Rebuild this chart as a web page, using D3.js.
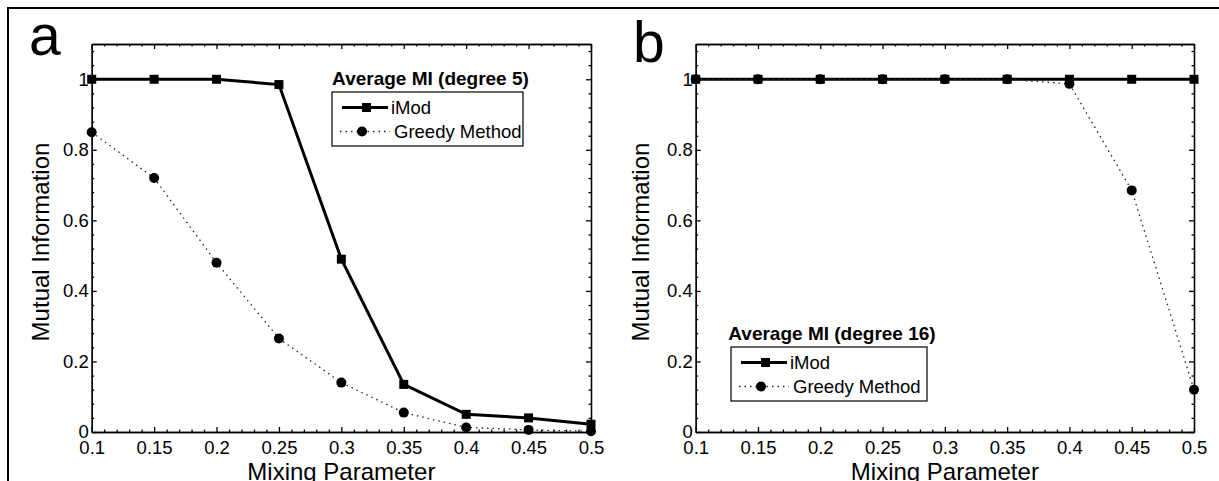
<!DOCTYPE html>
<html>
<head>
<meta charset="utf-8">
<script src="https://d3js.org/d3.v7.min.js"></script>
<style>
  body { margin: 0; background: #fff; }
  svg { display: block; font-family: "Liberation Sans", Arial, Helvetica, sans-serif; }
  .axis path, .axis line { stroke: #000; stroke-width: 1.3; }
  .axis text { font-size: 18.5px; fill: #000; font-family: "Liberation Sans", Arial, sans-serif; }
</style>
</head>
<body>
<svg id="chart"></svg>
<script>
// values
const mixing = [0.1, 0.15, 0.2, 0.25, 0.3, 0.35, 0.4, 0.45, 0.5];
const xTickLabels = ["0.1", "0.15", "0.2", "0.25", "0.3", "0.35", "0.4", "0.45", "0.5"];
const yTicks = [0, 0.2, 0.4, 0.6, 0.8, 1];
const yTickLabels = ["0", "0.2", "0.4", "0.6", "0.8", "1"];

const iModDeg5 = [1, 1, 1, 0.985, 0.49, 0.135, 0.05, 0.04, 0.022];
const greedyDeg5 = [0.85, 0.72, 0.48, 0.265, 0.14, 0.055, 0.013, 0.006, 0.002];
const iModDeg16 = [1, 1, 1, 1, 1, 1, 1, 1, 1];
const greedyDeg16 = [1, 1, 1, 1, 1, 1, 0.987, 0.685, 0.12];

const seriesNames = ["iMod", "Greedy Method"];

document.addEventListener("DOMContentLoaded", function() {
    const width = 1219, height = 481;
    const top = 44, bottom = 432;

    const svg = d3.select("#chart").attr("width", width).attr("height", height);

    // outer frame (runs off the right and bottom edges)
    svg.append("rect")
       .attr("x", 8).attr("y", 8).attr("width", 1300).attr("height", 600)
       .attr("fill", "none").attr("stroke", "#000").attr("stroke-width", 2);

    const panels = [
        { letter: "a", lx: 29, ly: 55, left: 91.7, right: 591, iMod: iModDeg5, greedy: greedyDeg5,
          title: "Average MI (degree 5)", box: [332, 92, 191, 54], ylabX: 49 },
        { letter: "b", lx: 633, ly: 62, left: 695.7, right: 1194, iMod: iModDeg16, greedy: greedyDeg16,
          title: "Average MI (degree 16)", box: [731, 347, 196, 54], ylabX: 649 }
    ];

    panels.forEach(function(p) {
        const x = d3.scaleLinear().domain([0.1, 0.5]).range([p.left, p.right]);
        const y = d3.scaleLinear().domain([0, 1.1]).range([bottom, top]);

        const minorX = d3.range(10, 51).filter(i => i % 5 !== 0).map(i => i / 100);
        const minorY = d3.range(0, 28).filter(i => i % 5 !== 0).map(i => i * 0.04);

        const g = svg.append("g");

        // minor ticks on all four sides
        g.append("g").attr("class", "axis").attr("transform", `translate(0,${bottom})`)
         .call(d3.axisBottom(x).tickValues(minorX).tickSizeInner(-2.5).tickSizeOuter(0).tickFormat(""));
        g.append("g").attr("class", "axis").attr("transform", `translate(0,${top})`)
         .call(d3.axisTop(x).tickValues(minorX).tickSizeInner(-2.5).tickSizeOuter(0).tickFormat(""));
        g.append("g").attr("class", "axis").attr("transform", `translate(${p.left},0)`)
         .call(d3.axisLeft(y).tickValues(minorY).tickSizeInner(-2.5).tickSizeOuter(0).tickFormat(""));
        g.append("g").attr("class", "axis").attr("transform", `translate(${p.right},0)`)
         .call(d3.axisRight(y).tickValues(minorY).tickSizeInner(-2.5).tickSizeOuter(0).tickFormat(""));

        // major ticks + labels
        g.append("g").attr("class", "axis").attr("transform", `translate(0,${bottom})`)
         .call(d3.axisBottom(x).tickValues(mixing).tickSizeInner(-5).tickSizeOuter(0).tickPadding(9)
               .tickFormat((d, i) => xTickLabels[i]));
        g.append("g").attr("class", "axis").attr("transform", `translate(0,${top})`)
         .call(d3.axisTop(x).tickValues(mixing).tickSizeInner(-5).tickSizeOuter(0).tickFormat(""));
        g.append("g").attr("class", "axis").attr("transform", `translate(${p.left},0)`)
         .call(d3.axisLeft(y).tickValues(yTicks).tickSizeInner(-5).tickSizeOuter(0).tickPadding(3)
               .tickFormat((d, i) => yTickLabels[i]));
        g.append("g").attr("class", "axis").attr("transform", `translate(${p.right},0)`)
         .call(d3.axisRight(y).tickValues(yTicks).tickSizeInner(-5).tickSizeOuter(0).tickFormat(""));

        // axis titles
        g.append("text")
         .attr("x", (p.left + p.right) / 2).attr("y", 480)
         .attr("text-anchor", "middle").attr("font-size", 24)
         .text("Mixing Parameter");
        g.append("text")
         .attr("transform", `translate(${p.ylabX},${(top + bottom) / 2 + 4}) rotate(-90)`)
         .attr("text-anchor", "middle").attr("font-size", 24)
         .text("Mutual Information");

        // panel letter
        g.append("text").attr("x", p.lx).attr("y", p.ly).attr("font-size", 57).text(p.letter);

        const line = d3.line().x((d, i) => x(mixing[i])).y(d => y(d));

        // iMod: thick solid with squares
        g.append("path").datum(p.iMod).attr("d", line)
         .attr("fill", "none").attr("stroke", "#000").attr("stroke-width", 3);
        g.selectAll(".sq").data(p.iMod).enter().append("rect")
         .attr("x", (d, i) => x(mixing[i]) - 4.5).attr("y", d => y(d) - 4.5)
         .attr("width", 9).attr("height", 9).attr("fill", "#000");

        // greedy: dotted with circles, drawn on top
        g.append("path").datum(p.greedy).attr("d", line)
         .attr("fill", "none").attr("stroke", "#222").attr("stroke-width", 1.3)
         .attr("stroke-dasharray", "1.5,4");
        g.selectAll(".dot").data(p.greedy).enter().append("circle")
         .attr("cx", (d, i) => x(mixing[i])).attr("cy", d => y(d)).attr("r", 5).attr("fill", "#000");

        // legend
        const [bx, by, bw, bh] = p.box;
        g.append("text")
         .attr("x", bx + bw / 2 + 3).attr("y", by - 7)
         .attr("text-anchor", "middle").attr("font-size", 19).attr("font-weight", "bold")
         .text(p.title);
        g.append("rect").attr("x", bx).attr("y", by).attr("width", bw).attr("height", bh)
         .attr("fill", "#fff").attr("stroke", "#000").attr("stroke-width", 1.2);

        const row1 = by + 15.5, row2 = by + 39.5;
        g.append("line").attr("x1", bx + 10).attr("x2", bx + 56).attr("y1", row1).attr("y2", row1)
         .attr("stroke", "#000").attr("stroke-width", 3);
        g.append("rect").attr("x", bx + 30).attr("y", row1 - 4.5).attr("width", 9).attr("height", 9).attr("fill", "#000");
        g.append("text").attr("x", bx + 59).attr("y", row1).attr("dy", "0.35em").attr("font-size", 18.5)
         .text(seriesNames[0]);

        g.append("line").attr("x1", bx + 8).attr("x2", bx + 58).attr("y1", row2).attr("y2", row2)
         .attr("stroke", "#222").attr("stroke-width", 1.3).attr("stroke-dasharray", "1.5,4");
        g.append("circle").attr("cx", bx + 30).attr("cy", row2).attr("r", 5).attr("fill", "#000");
        g.append("text").attr("x", bx + 62).attr("y", row2).attr("dy", "0.35em").attr("font-size", 18.5)
         .text(seriesNames[1]);
    });
});
</script>
</body>
</html>
